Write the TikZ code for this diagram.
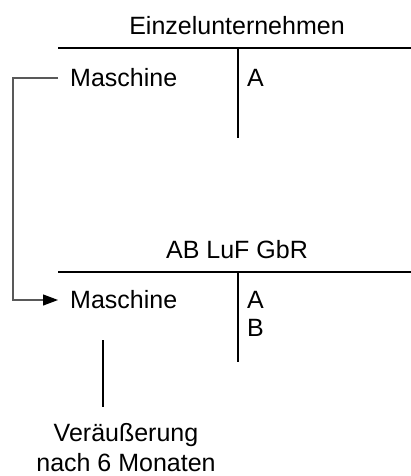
\documentclass[tikz,border=0pt]{standalone}
\usepackage{fontspec}
\setmainfont{Liberation Sans}
\usetikzlibrary{arrows.meta}

\begin{document}
\begin{tikzpicture}[x=1pt, y=-1pt,
        textStyle/.style={inner sep=0pt, font=\fontsize{25}{30}\selectfont},
        itemStyle/.style={textStyle, anchor=west, inner xsep=12pt},
        accountLine/.style={line width=1.2pt},
        moveLine/.style={line width=1.2pt, black!65, -{Triangle[length=15pt, width=11pt, color=black]}}]
                    \useasboundingbox (0, 0) rectangle (411, 476);

                    % first account
                    \node[textStyle](title1) at (237, 26) {Einzelunternehmen};
                    \node[itemStyle](mach1) at (58, 78) {Maschine};
                    \node[itemStyle](a1) at (235, 78) {A};
                    \draw[accountLine] (58, 48) -- (411, 48);
                    \draw[accountLine] (238, 48) -- (238, 138);

                    % second account
                    \node[textStyle](title2) at (237, 250) {AB LuF GbR};
                    \node[itemStyle](mach2) at (58, 300) {Maschine};
                    \node[itemStyle](a2) at (235, 300) {A};
                    \node[itemStyle](b2) at (235, 328) {B};
                    \draw[accountLine] (58, 272) -- (411, 272);
                    \draw[accountLine] (238, 272) -- (238, 362);

                    % transfer of the machine
                    \draw[moveLine] (mach1.west) -- ++(-45, 0) |- (mach2.west);

                    % sale note
                    \node[textStyle, align=center](sale) at (126, 448) {Veräußerung\\nach 6 Monaten};
                    \coordinate (saleTop) at (103, 340);
                    \draw[accountLine] (saleTop) -- ++(0, 67);
                \end{tikzpicture}
\end{document}
